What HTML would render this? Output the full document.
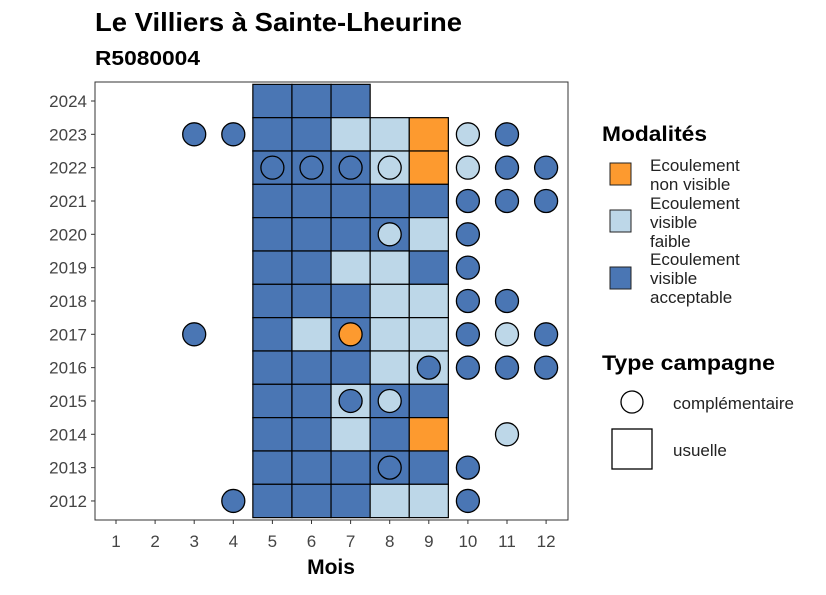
<!DOCTYPE html>
<html><head><meta charset="utf-8"><style>
body{margin:0;background:#fff;}
svg text{font-family:"Liberation Sans",sans-serif;}
</style></head><body>
<svg id="c" width="826" height="590" xmlns="http://www.w3.org/2000/svg">
<text x="95" y="31" font-size="26" font-weight="bold" fill="#000" textLength="367" lengthAdjust="spacingAndGlyphs">Le Villiers à Sainte-Lheurine</text>
<text x="95" y="65" font-size="20" font-weight="bold" fill="#000" textLength="105" lengthAdjust="spacingAndGlyphs">R5080004</text>
<g id="plot"></g>
<rect x="95" y="82" width="473" height="438" fill="none" stroke="#333" stroke-width="1"/>
<text x="331" y="574" font-size="21" font-weight="bold" text-anchor="middle">Mois</text>
<g>
<text x="602" y="141" font-size="21" font-weight="bold" textLength="105" lengthAdjust="spacingAndGlyphs">Modalités</text>
<rect x="610" y="163" width="21" height="22" fill="#fd9a2f" stroke="#222"/>
<text x="650" y="171" font-size="17" fill="#222"><tspan x="650">Ecoulement</tspan><tspan x="650" dy="19">non visible</tspan></text>
<rect x="610" y="210" width="21" height="22" fill="#bdd7e8" stroke="#222"/>
<text x="650" y="209" font-size="17" fill="#222"><tspan x="650">Ecoulement</tspan><tspan x="650" dy="19">visible</tspan><tspan x="650" dy="19">faible</tspan></text>
<rect x="610" y="267" width="21" height="22" fill="#4a76b4" stroke="#222"/>
<text x="650" y="265" font-size="17" fill="#222"><tspan x="650">Ecoulement</tspan><tspan x="650" dy="19">visible</tspan><tspan x="650" dy="19">acceptable</tspan></text>
</g>
<g>
<text x="602" y="370" font-size="21" font-weight="bold" textLength="173" lengthAdjust="spacingAndGlyphs">Type campagne</text>
<circle cx="632" cy="402" r="11" fill="#fff" stroke="#000" stroke-width="1.3"/>
<text x="673" y="409" font-size="17" fill="#222">complémentaire</text>
<rect x="612" y="429" width="40" height="40" fill="#fff" stroke="#000" stroke-width="1.3"/>
<text x="673" y="456" font-size="17" fill="#222">usuelle</text>
</g>
</svg>
<script>
const months=[1,2,3,4,5,6,7,8,9,10,11,12];
const years=[2012,2013,2014,2015,2016,2017,2018,2019,2020,2021,2022,2023,2024];
const tileYears=[2024,2024,2024, 2023,2023,2023,2023,2023, 2022,2022,2022,2022,2022, 2021,2021,2021,2021,2021, 2020,2020,2020,2020,2020, 2019,2019,2019,2019,2019, 2018,2018,2018,2018,2018, 2017,2017,2017,2017,2017, 2016,2016,2016,2016,2016, 2015,2015,2015,2015,2015, 2014,2014,2014,2014,2014, 2013,2013,2013,2013,2013, 2012,2012,2012,2012,2012];
const tileMonths=[5,6,7, 5,6,7,8,9, 5,6,7,8,9, 5,6,7,8,9, 5,6,7,8,9, 5,6,7,8,9, 5,6,7,8,9, 5,6,7,8,9, 5,6,7,8,9, 5,6,7,8,9, 5,6,7,8,9, 5,6,7,8,9, 5,6,7,8,9];
const tileMods=["A","A","A", "A","A","F","F","N", "A","A","A","F","N", "A","A","A","A","A", "A","A","A","A","F", "A","A","F","F","A", "A","A","A","F","F", "A","F","A","F","F", "A","A","A","F","F", "A","A","F","A","A", "A","A","F","A","N", "A","A","A","A","A", "A","A","A","F","F"];
const ptYears=[2023,2023,2023,2023, 2022,2022,2022,2022,2022,2022,2022, 2021,2021,2021, 2020,2020, 2019, 2018,2018, 2017,2017,2017,2017,2017, 2016,2016,2016,2016, 2015,2015, 2014, 2013,2013, 2012,2012];
const ptMonths=[3,4,10,11, 5,6,7,8,10,11,12, 10,11,12, 8,10, 10, 10,11, 3,7,10,11,12, 9,10,11,12, 7,8, 11, 8,10, 4,10];
const ptMods=["A","A","F","A", "A","A","A","F","F","A","A", "A","A","A", "F","A", "A", "A","A", "A","N","A","F","A", "A","A","A","A", "A","F", "F", "A","A", "A","A"];
const colors={A:"#4a76b4",F:"#bdd7e8",N:"#fd9a2f"};
const NS="http://www.w3.org/2000/svg";
const x0=95,x1=568,y0=82,y1=520;
const xStep=39.1, yStep=33.33;
const xScale=m=>116+(m-1)*xStep;
const yScale=y=>101+(2024-y)*yStep;
const svg=document.getElementById('c');
const plot=document.getElementById('plot');
function mk(tag,attrs){const e=document.createElementNS(NS,tag);for(const k in attrs)e.setAttribute(k,attrs[k]);return e;}
tileYears.forEach((y,i)=>{
 const r=mk('rect',{x:xScale(tileMonths[i])-xStep/2,y:yScale(y)-yStep/2,width:xStep,height:yStep,fill:colors[tileMods[i]],stroke:"#000","stroke-width":1.2});
 
 
 plot.appendChild(r);
});
ptYears.forEach((y,i)=>{
 const c=mk('circle',{cx:xScale(ptMonths[i]),cy:yScale(y),r:11.5,fill:colors[ptMods[i]],stroke:"#000","stroke-width":1.3});
 
 
 plot.appendChild(c);
});
months.forEach(m=>{
 const t=mk('line',{x1:xScale(m),x2:xScale(m),y1:y1,y2:y1+4,stroke:"#333"});
 
 
 svg.appendChild(t);
 const l=mk('text',{x:xScale(m),y:547,"font-size":17,"text-anchor":"middle",fill:"#444"});
 l.textContent=m;
 
 
 svg.appendChild(l);
});
years.forEach(y=>{
 const t=mk('line',{x1:x0-4,x2:x0,y1:yScale(y),y2:yScale(y),stroke:"#333"});
 
 
 svg.appendChild(t);
 const l=mk('text',{x:87,y:yScale(y)+6,"font-size":17,"text-anchor":"end",fill:"#444"});
 l.textContent=y;
 
 
 svg.appendChild(l);
});
</script>
</body></html>
